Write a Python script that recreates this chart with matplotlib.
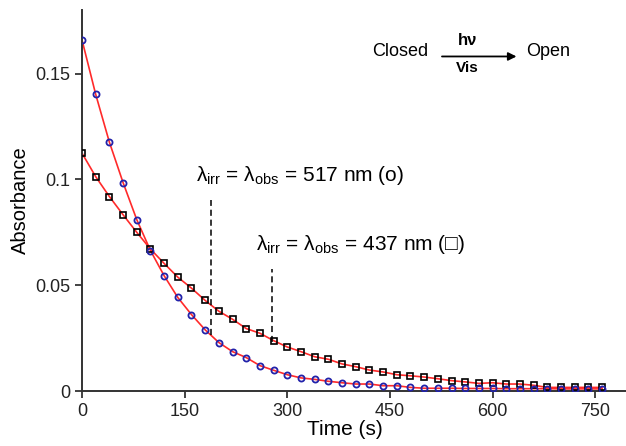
import numpy as np
import matplotlib
matplotlib.use("Agg")
import matplotlib.pyplot as plt

plt.rcParams['font.family'] = ['Liberation Sans', 'DejaVu Sans']
plt.rcParams['mathtext.fontset'] = 'custom'
plt.rcParams['mathtext.rm'] = 'Liberation Sans'
plt.rcParams['mathtext.it'] = 'Liberation Sans:italic'

# time points (s), every 20 s
time = np.arange(0, 761, 20)

# absorbance at 517 nm (circles)
abs_517 = [0.1659, 0.1402, 0.1176, 0.0985, 0.0810, 0.0664, 0.0545, 0.0442,
           0.0361, 0.0289, 0.0229, 0.0186, 0.0158, 0.0120, 0.0098, 0.0077,
           0.0062, 0.0055, 0.0046, 0.0039, 0.0033, 0.0033, 0.0025, 0.0025,
           0.0017, 0.0013, 0.0013, 0.0013, 0.0012, 0.0012, 0.0012, 0.0011,
           0.0011, 0.0011, 0.0011, 0.0010, 0.0010, 0.0010, 0.0010]

# absorbance at 437 nm (squares)
abs_437 = [0.1124, 0.1013, 0.0919, 0.0833, 0.0750, 0.0671, 0.0603, 0.0538,
           0.0486, 0.0428, 0.0377, 0.0339, 0.0295, 0.0273, 0.0238, 0.0208,
           0.0186, 0.0162, 0.0150, 0.0128, 0.0115, 0.0099, 0.0090, 0.0077,
           0.0072, 0.0066, 0.0058, 0.0049, 0.0043, 0.0036, 0.0039, 0.0033,
           0.0033, 0.0027, 0.0017, 0.0017, 0.0017, 0.0017, 0.0017]

xticks = [0, 150, 300, 450, 600, 750]
yticks = [0, 0.05, 0.1, 0.15]
yticklabels = ['0', '0.05', '0.1', '0.15']

fig = plt.figure(figsize=(6.26, 4.46), dpi=100)
ax = fig.add_axes([0.131, 0.1233, 0.869, 0.854])

red = '#ff2a2a'
ax.plot(time, abs_437, '-', color=red, lw=1.2, zorder=2)
ax.plot(time, abs_517, '-', color=red, lw=1.2, zorder=2)
ax.plot(time, abs_437, 's', mfc='none', mec='black', ms=4.6, mew=1.2, zorder=3)
ax.plot(time, abs_517, 'o', mfc='none', mec='#2222aa', ms=4.4, mew=1.3, zorder=3)

ax.set_xlim(0, 795)
ax.set_ylim(0, 0.180)
ax.set_xticks(xticks)
ax.set_yticks(yticks)
ax.set_yticklabels(yticklabels)
ax.tick_params(labelsize=13, length=5, width=1.2, colors='#222222')
for s in ['top', 'right']:
    ax.spines[s].set_visible(False)
for s in ['left', 'bottom']:
    ax.spines[s].set_linewidth(1.4)
    ax.spines[s].set_color('#333333')

ax.set_xlabel('Time (s)', fontsize=15)
ax.xaxis.set_label_coords(0.483, -0.075)
ax.set_ylabel('Absorbance', fontsize=14.5, labelpad=4)

# annotations
ax.text(166, 0.1018, r'λ$_{\mathrm{irr}}$ = λ$_{\mathrm{obs}}$ = 517 nm (o)',
        fontsize=15, ha='left', va='center')
ax.plot([188.5, 188.5], [0.0265, 0.0904], ls='--', color='black', lw=1.1,
        dashes=(4, 2.5))
ax.text(254, 0.0691, r'λ$_{\mathrm{irr}}$ = λ$_{\mathrm{obs}}$ = 437 nm (□)',
        fontsize=15, ha='left', va='center')
ax.plot([277, 277], [0.0233, 0.0578], ls='--', color='black', lw=1.1,
        dashes=(4, 2.5))

# reaction scheme
ax.text(506, 0.1605, 'Closed', fontsize=13, ha='right', va='center')
ax.annotate('', xy=(639, 0.1581), xytext=(522, 0.1581),
            arrowprops=dict(arrowstyle='-|>', color='black', lw=1.3,
                            mutation_scale=12))
ax.text(563, 0.1655, 'hν', fontsize=12, fontweight='bold', ha='center', va='center')
ax.text(563, 0.1527, 'Vis', fontsize=11, fontweight='bold', ha='center', va='center')
ax.text(649, 0.1605, 'Open', fontsize=13, ha='left', va='center')

fig.savefig('out.png', dpi=100)
